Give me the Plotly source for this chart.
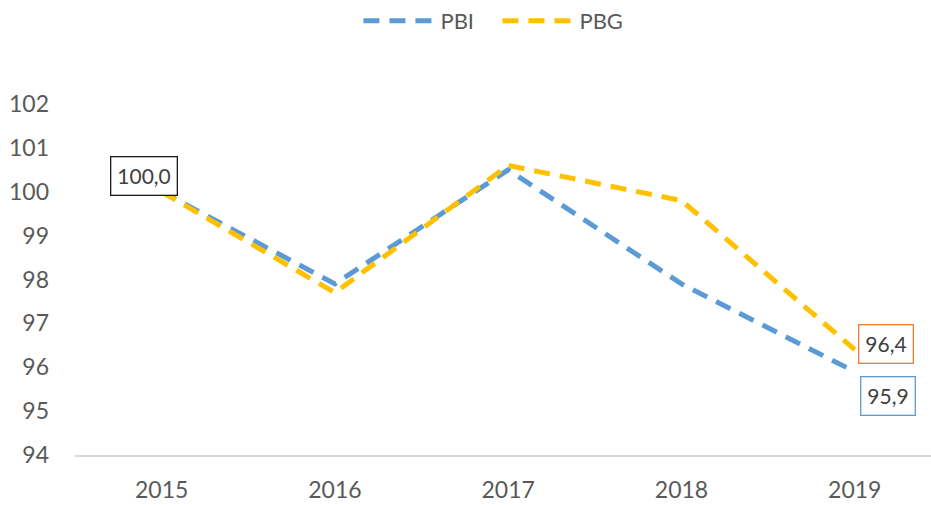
import plotly.graph_objects as go

years = ["2015", "2016", "2017", "2018", "2019"]
pbi = [100.0, 97.9, 100.5, 97.9, 95.9]
pbg = [100.0, 97.7, 100.6, 99.8, 96.4]
y_ticks = [94, 95, 96, 97, 98, 99, 100, 101, 102]

BLUE = "#5B9BD5"
GOLD = "#FFC000"
FONT = "Lato, Open Sans, sans-serif"
GREY = "#595959"

x_idx = list(range(len(years)))

fig = go.Figure()
fig.add_trace(go.Scatter(x=x_idx, y=pbi, name="PBI", mode="lines",
                         line=dict(color=BLUE, width=5, dash="16px,10px")))
fig.add_trace(go.Scatter(x=x_idx, y=pbg, name="PBG", mode="lines",
                         line=dict(color=GOLD, width=5, dash="16px,10px")))

def label(xv, yv, txt, border, dx, dy):
    fig.add_annotation(x=xv, y=yv, xref="x", yref="y", text=txt, showarrow=False,
                       xshift=dx, yshift=dy, bordercolor=border, borderwidth=1.3,
                       borderpad=6, bgcolor="white",
                       font=dict(family=FONT, size=21, color="#404040"))

label(0, pbi[0], f"{pbi[0]:.1f}".replace(".", ","), "#1a1a1a", -18, 16)
label(4, pbg[4], f"{pbg[4]:.1f}".replace(".", ","), "#ED7D31", 31, 6)
label(4, pbi[4], f"{pbi[4]:.1f}".replace(".", ","), BLUE, 33, -24)

fig.update_layout(
    width=931, height=505,
    margin=dict(l=75, r=0, t=104, b=50),
    paper_bgcolor="white", plot_bgcolor="white",
    font=dict(family=FONT, size=23, color=GREY),
    showlegend=True,
    legend=dict(orientation="h", x=0.385, xanchor="left", xref="container",
                y=1.0, yref="container", yanchor="top",
                itemwidth=72, entrywidth=52, entrywidthmode="pixels",
                font=dict(size=22, color=GREY), tracegroupgap=0),
    xaxis=dict(tickmode="array", tickvals=x_idx, ticktext=years,
               range=[-0.5, 4.44], showgrid=False, zeroline=False,
               showline=True, linecolor="#D9D9D9", linewidth=1.5,
               ticks="", ticklabelstandoff=14, automargin=False,
               tickfont=dict(size=23, color=GREY)),
    yaxis=dict(tickmode="array", tickvals=y_ticks, range=[94, 102],
               showgrid=False, zeroline=False, showline=False, ticks="",
               ticklabelstandoff=25, automargin=False,
               tickfont=dict(size=23, color=GREY)),
)

fig.write_html("out.html", config={"displayModeBar": False},
               post_script="document.body.style.margin='0';")
